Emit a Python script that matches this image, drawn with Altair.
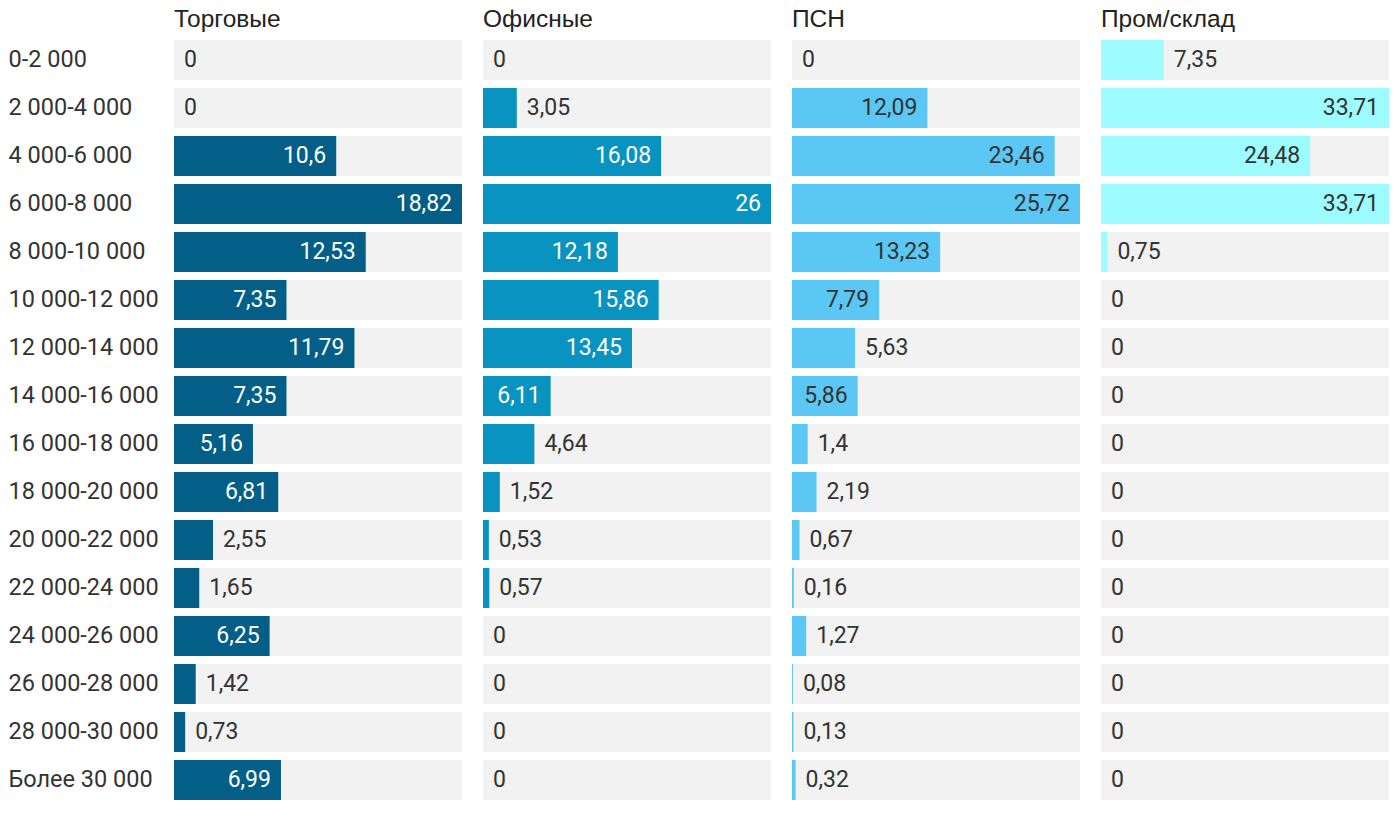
import altair as alt
import pandas as pd

ranges = ["0-2 000", "2 000-4 000", "4 000-6 000", "6 000-8 000", "8 000-10 000",
          "10 000-12 000", "12 000-14 000", "14 000-16 000", "16 000-18 000",
          "18 000-20 000", "20 000-22 000", "22 000-24 000", "24 000-26 000",
          "26 000-28 000", "28 000-30 000", "Более 30 000"]
categories = ["Торговые", "Офисные", "ПСН", "Пром/склад"]
torg = [0, 0, 10.6, 18.82, 12.53, 7.35, 11.79, 7.35, 5.16, 6.81, 2.55, 1.65, 6.25, 1.42, 0.73, 6.99]
ofis = [0, 3.05, 16.08, 26, 12.18, 15.86, 13.45, 6.11, 4.64, 1.52, 0.53, 0.57, 0, 0, 0, 0]
psn = [0, 12.09, 23.46, 25.72, 13.23, 7.79, 5.63, 5.86, 1.4, 2.19, 0.67, 0.16, 1.27, 0.08, 0.13, 0.32]
prom = [7.35, 33.71, 24.48, 33.71, 0.75, 0, 0, 0, 0, 0, 0, 0, 0, 0, 0, 0]
series = [torg, ofis, psn, prom]

bar_colors = ["#035f87", "#0893c1", "#5ac7f4", "#9cfcff"]
inside_text = ["#ffffff", "#ffffff", "#333333", "#333333"]

rows = []
for cat, vals, itc in zip(categories, series, inside_text):
    m = max(vals)
    for r, v in zip(ranges, vals):
        inside = (v / m) >= 0.223
        rows.append({
            "cat": cat, "range": r, "v": v, "maxv": m,
            "label": "{:g}".format(v).replace(".", ","),
            "inside": inside,
            "tcolor": itc if inside else "#333333",
        })
df = pd.DataFrame(rows)

y = alt.Y("range:N", sort=ranges,
          scale=alt.Scale(paddingInner=0.1667, paddingOuter=0.0833),
          axis=alt.Axis(title=None, domain=False, ticks=False, labelAlign="left",
                        labelPadding=166, labelFontSize=23.5, labelFont="Roboto",
                        labelColor="#333333", labelLimit=0))
xs = alt.Scale(zero=True, nice=False)

bg = alt.Chart().mark_bar(color="#f2f2f2").encode(
    x=alt.X("maxv:Q", scale=xs, axis=None), y=y)
bars = alt.Chart().mark_bar().encode(
    x=alt.X("v:Q", scale=xs, axis=None), y=y,
    color=alt.Color("cat:N", scale=alt.Scale(domain=categories, range=bar_colors), legend=None))
t_in = alt.Chart().mark_text(align="right", dx=-10, font="Roboto", fontSize=23).encode(
    x=alt.X("v:Q", scale=xs, axis=None), y=y, text="label:N",
    color=alt.Color("tcolor:N", scale=None)).transform_filter("datum.inside")
t_out = alt.Chart().mark_text(align="left", dx=10, font="Roboto", fontSize=23).encode(
    x=alt.X("v:Q", scale=xs, axis=None), y=y, text="label:N",
    color=alt.Color("tcolor:N", scale=None)).transform_filter("!datum.inside")

chart = alt.layer(bg, bars, t_in, t_out, data=df).properties(
    width=288, height=768
).facet(
    column=alt.Column("cat:N", sort=categories,
                      header=alt.Header(title=None, labelFontSize=24.5, labelFont="Liberation Sans",
                                        labelAnchor="start", labelAlign="left", labelColor="#222222",
                                        labelPadding=-20.5, labelBaseline="bottom")),
    spacing=21
).resolve_scale(x="independent").configure_view(stroke=None).properties(
    padding={"top": -1, "left": 0, "right": 0, "bottom": 0})

chart.save("out.html", embed_options={"renderer": "svg", "actions": False})
